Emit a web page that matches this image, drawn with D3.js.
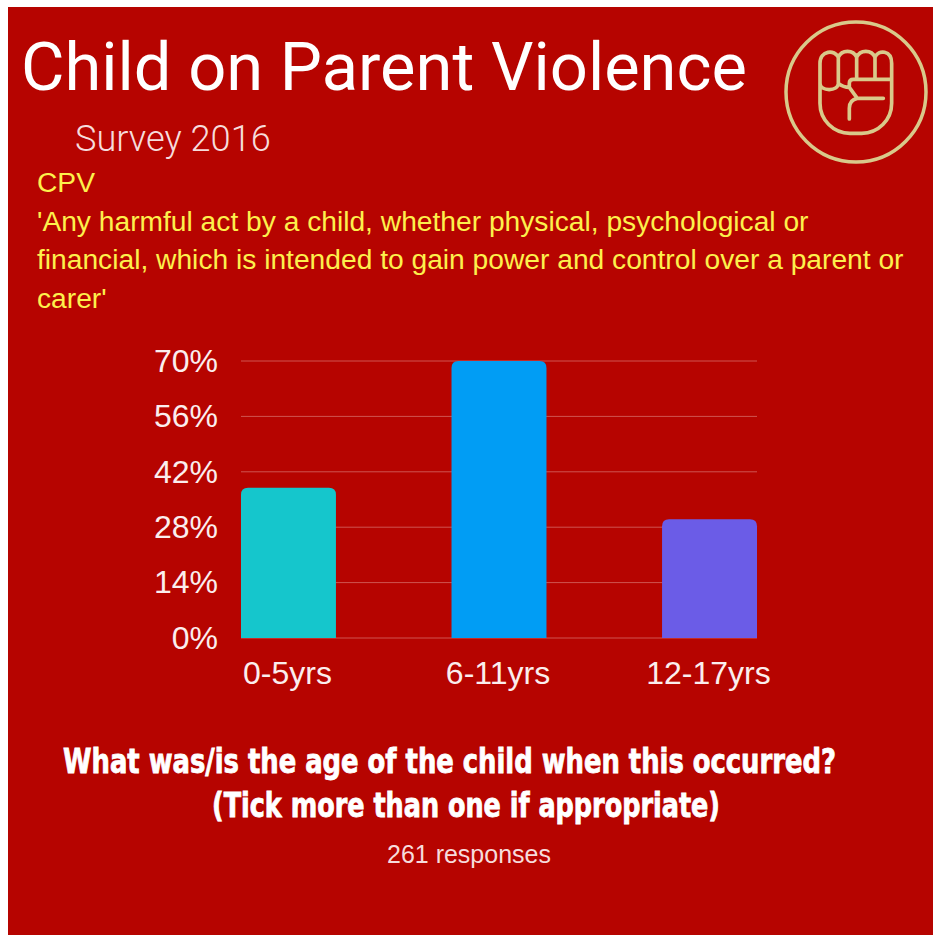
<!DOCTYPE html>
<html>
<head>
<meta charset="utf-8">
<script src="https://cdnjs.cloudflare.com/ajax/libs/d3/7.8.5/d3.min.js"></script>
<style>
  html, body { margin: 0; padding: 0; background: #fff; }
  svg { display: block; }
</style>
</head>
<body>
<div id="chart"></div>
<script>
var categories = ["0-5yrs", "6-11yrs", "12-17yrs"];
var values = [38, 70, 30];
var barColors = ["#15c6cc", "#019df4", "#6b5ce7"];
var yTicks = [0, 14, 28, 42, 56, 70];
var defLines = [
  "CPV",
  "'Any harmful act by a child, whether physical, psychological or",
  "financial, which is intended to gain power and control over a parent or",
  "carer'"
];

var width = 933, height = 935;
var red = "#b60400";
var gold = "#d9c98a";

var svg = d3.select("#chart").append("svg")
  .attr("width", width)
  .attr("height", height);

svg.append("rect")
  .attr("x", 8).attr("y", 7)
  .attr("width", width - 8).attr("height", height - 7)
  .attr("fill", red);

// titles
svg.append("text").attr("x", 21).attr("y", 90)
  .attr("font-family", "Roboto").attr("font-weight", 400).attr("font-size", 66)
  .attr("textLength", 726).attr("lengthAdjust", "spacingAndGlyphs")
  .attr("fill", "#fff").text("Child on Parent Violence");
svg.append("text").attr("x", 75).attr("y", 151)
  .attr("font-family", "Roboto").attr("font-weight", 300).attr("font-size", 36.2)
  .attr("fill", "#f6dcdc").text("Survey 2016");

// definition text
svg.selectAll("text.def").data(defLines).enter().append("text")
  .attr("class", "def")
  .attr("x", 37)
  .attr("y", function(d, i) { return 192 + i * 38.5; })
  .attr("font-family", "Liberation Sans").attr("font-size", 28.2)
  .attr("fill", "#fdf04c")
  .text(function(d) { return d; });

// fist icon, traced in 3x zoom units
var icon = svg.append("g")
  .attr("fill", "none").attr("stroke", gold)
  .attr("stroke-linecap", "round").attr("stroke-linejoin", "round");
icon.append("circle").attr("cx", 856).attr("cy", 92).attr("r", 70).attr("stroke-width", 3.5);
var fist = icon.append("g")
  .attr("transform", "translate(770,0) scale(0.3333)")
  .attr("stroke-width", 11);
fist.append("path").attr("d",
  "M150,250 V190 C150,150 195,148 205,172 C215,148 250,148 260,172 C270,148 305,148 315,172 " +
  "C325,148 365,150 365,190 V310 C365,360 325,400 275,400 H240 C190,400 150,360 150,310 V250 " +
  "C150,275 205,275 205,250 V172 M260,172 V235 M315,172 V235 " +
  "M365,238 H250 C242,238 238,242 238,250 V262 L262,295 H340 " +
  "M262,295 C246,298 238,310 238,325 V357 M205,250 C215,258 228,262 238,262");

// chart
var x = d3.scaleBand().domain(categories).range([241, 757]).paddingInner(0.549).paddingOuter(0);
var y = d3.scaleLinear().domain([0, 70]).range([638, 361]);

svg.append("g").selectAll("line").data(yTicks).enter().append("line")
  .attr("x1", 241).attr("x2", 757)
  .attr("y1", function(d) { return y(d); })
  .attr("y2", function(d) { return y(d); })
  .attr("stroke", "#cf5550").attr("stroke-width", 1);

var yAxis = d3.axisLeft(y).tickValues(yTicks).tickSize(0).tickPadding(0)
  .tickFormat(function(d) { return d + "%"; });
var yG = svg.append("g").attr("transform", "translate(218,0)").call(yAxis);
yG.select(".domain").remove();
yG.selectAll("text").attr("font-family", "Liberation Sans").attr("font-size", 32)
  .attr("fill", "#fbeeee");

var xAxis = d3.axisBottom(x).tickSize(0).tickPadding(0);
var xG = svg.append("g").attr("transform", "translate(-1,661)").call(xAxis);
xG.select(".domain").remove();
xG.selectAll("text").attr("font-family", "Liberation Sans").attr("font-size", 32)
  .attr("fill", "#fbeeee");

function barPath(d, i) {
  var x0 = x(categories[i]), w = x.bandwidth(), top = y(d), r = 7;
  return "M" + x0 + "," + y(0) + "V" + (top + r) + "Q" + x0 + "," + top + " " + (x0 + r) + "," + top +
    "H" + (x0 + w - r) + "Q" + (x0 + w) + "," + top + " " + (x0 + w) + "," + (top + r) + "V" + y(0) + "Z";
}
svg.append("g").selectAll("path").data(values).enter().append("path")
  .attr("d", barPath)
  .attr("fill", function(d, i) { return barColors[i]; });

// question text, stretched upward since no Anton-like font is available
var qStyle = function(sel) {
  sel.attr("font-family", "DejaVu Sans Condensed, DejaVu Sans")
    .attr("font-weight", 700).attr("font-size", 30)
    .attr("fill", "#fff").attr("stroke", "#fff").attr("stroke-width", 0.7);
};
svg.append("text").attr("transform", "translate(63,773) scale(1,1.1)").attr("textLength", 773)
  .attr("lengthAdjust", "spacingAndGlyphs")
  .call(qStyle).text("What was/is the age of the child when this occurred?");
svg.append("text").attr("transform", "translate(212,817) scale(1,1.1)").attr("textLength", 508)
  .attr("lengthAdjust", "spacingAndGlyphs")
  .call(qStyle).text("(Tick more than one if appropriate)");

svg.append("text").attr("x", 469).attr("y", 863).attr("text-anchor", "middle")
  .attr("font-family", "Liberation Sans").attr("font-size", 25)
  .attr("fill", "#f6dcdc").text("261 responses");
</script>
</body>
</html>
